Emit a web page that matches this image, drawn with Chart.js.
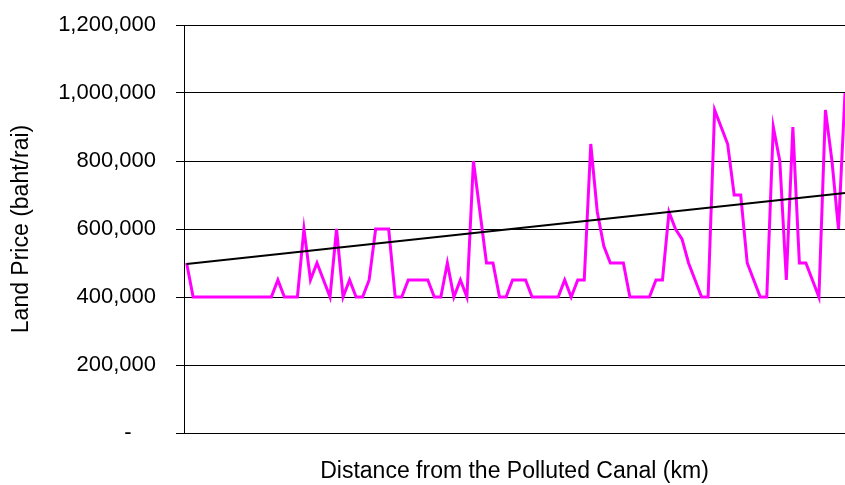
<!DOCTYPE html>
<html>
<head>
<meta charset="utf-8">
<script src="https://cdn.jsdelivr.net/npm/chart.js@4/dist/chart.umd.min.js"></script>
<style>
	html, body { margin: 0; padding: 0; background: #fff; overflow: hidden; }
	#wrap { width: 845px; height: 485px; }
</style>
</head>
<body>
<div id="wrap"><canvas id="landChart" width="845" height="485"></canvas></div>
<script>

// land price along the canal, baht/rai (one value per sampled plot)
const landPrice = [
	500000, 400000, 400000, 400000, 400000, 400000, 400000, 400000, 400000, 400000,
	400000, 400000, 400000, 400000, 450000, 400000, 400000, 400000, 600000, 450000,
	500000, 450000, 400000, 600000, 400000, 450000, 400000, 400000, 450000, 600000,
	600000, 600000, 400000, 400000, 450000, 450000, 450000, 450000, 400000, 400000,
	500000, 400000, 450000, 400000, 800000, 650000, 500000, 500000, 400000, 400000,
	450000, 450000, 450000, 400000, 400000, 400000, 400000, 400000, 450000, 400000,
	450000, 450000, 850000, 650000, 550000, 500000, 500000, 500000, 400000, 400000,
	400000, 400000, 450000, 450000, 650000, 600000, 570000, 500000, 450000, 400000,
	400000, 950000, 900000, 850000, 700000, 700000, 500000, 450000, 400000, 400000,
	900000, 800000, 450000, 900000, 500000, 500000, 450000, 400000, 950000, 800000,
	600000, 1000000
];

// linear trend, read at both ends of the plot
const trendIndex = [0, 101];
const trendPrice = [497000, 706000];

const yTicks = [0, 200000, 400000, 600000, 800000, 1000000, 1200000];

const priceSeries = landPrice.map((v, i) => ({ x: i, y: v }));
const trendSeries = trendIndex.map((x, i) => ({ x: x, y: trendPrice[i] }));

Chart.defaults.font.family = '"Liberation Sans", Arial, sans-serif';
Chart.defaults.color = '#000';

const ctx = document.getElementById('landChart').getContext('2d');

const chart = new Chart(ctx, {
	type: 'line',
	data: {
		datasets: [
			{
				label: 'Trend',
				data: trendSeries,
				borderColor: '#000000',
				borderWidth: 2,
				pointRadius: 0,
				tension: 0,
				order: 0
			},
			{
				label: 'Land Price',
				data: priceSeries,
				borderColor: '#FF00FF',
				borderWidth: 3,
				pointRadius: 0,
				tension: 0,
				order: 1
			}
		]
	},
	options: {
		responsive: false,
		animation: false,
		layout: { padding: { top: 25, right: 0, bottom: 0, left: 0 } },
		plugins: {
			legend: { display: false },
			tooltip: { enabled: false }
		},
		scales: {
			x: {
				type: 'linear',
				min: -0.4,
				max: 101,
				ticks: { display: false },
				grid: { display: false },
				border: { display: false },
				title: {
					display: true,
					text: 'Distance from the Polluted Canal (km)',
					font: { size: 23 },
					padding: { top: 0, bottom: 0 }
				},
				afterFit: scale => { scale.height = 52; }
			},
			y: {
				min: 0,
				max: 1200000,
				afterBuildTicks: scale => {
					scale.ticks = yTicks.map(v => ({ value: v }));
				},
				ticks: {
					padding: 20,
					font: { size: 22 },
					callback: v => v === 0 ? '-    ' : v.toLocaleString('en-US')
				},
				grid: {
					color: '#000',
					lineWidth: 1,
					tickLength: 8,
					tickColor: '#000'
				},
				border: { color: '#000', width: 1 },
				title: {
					display: true,
					text: 'Land Price (baht/rai)',
					font: { size: 23 },
					padding: { top: 8, bottom: 0 }
				},
				afterFit: scale => {
					scale.width = 184;
					scale.paddingTop = 0;
					scale.paddingBottom = 0;
				}
			}
		}
	}
});
</script>
</body>
</html>
